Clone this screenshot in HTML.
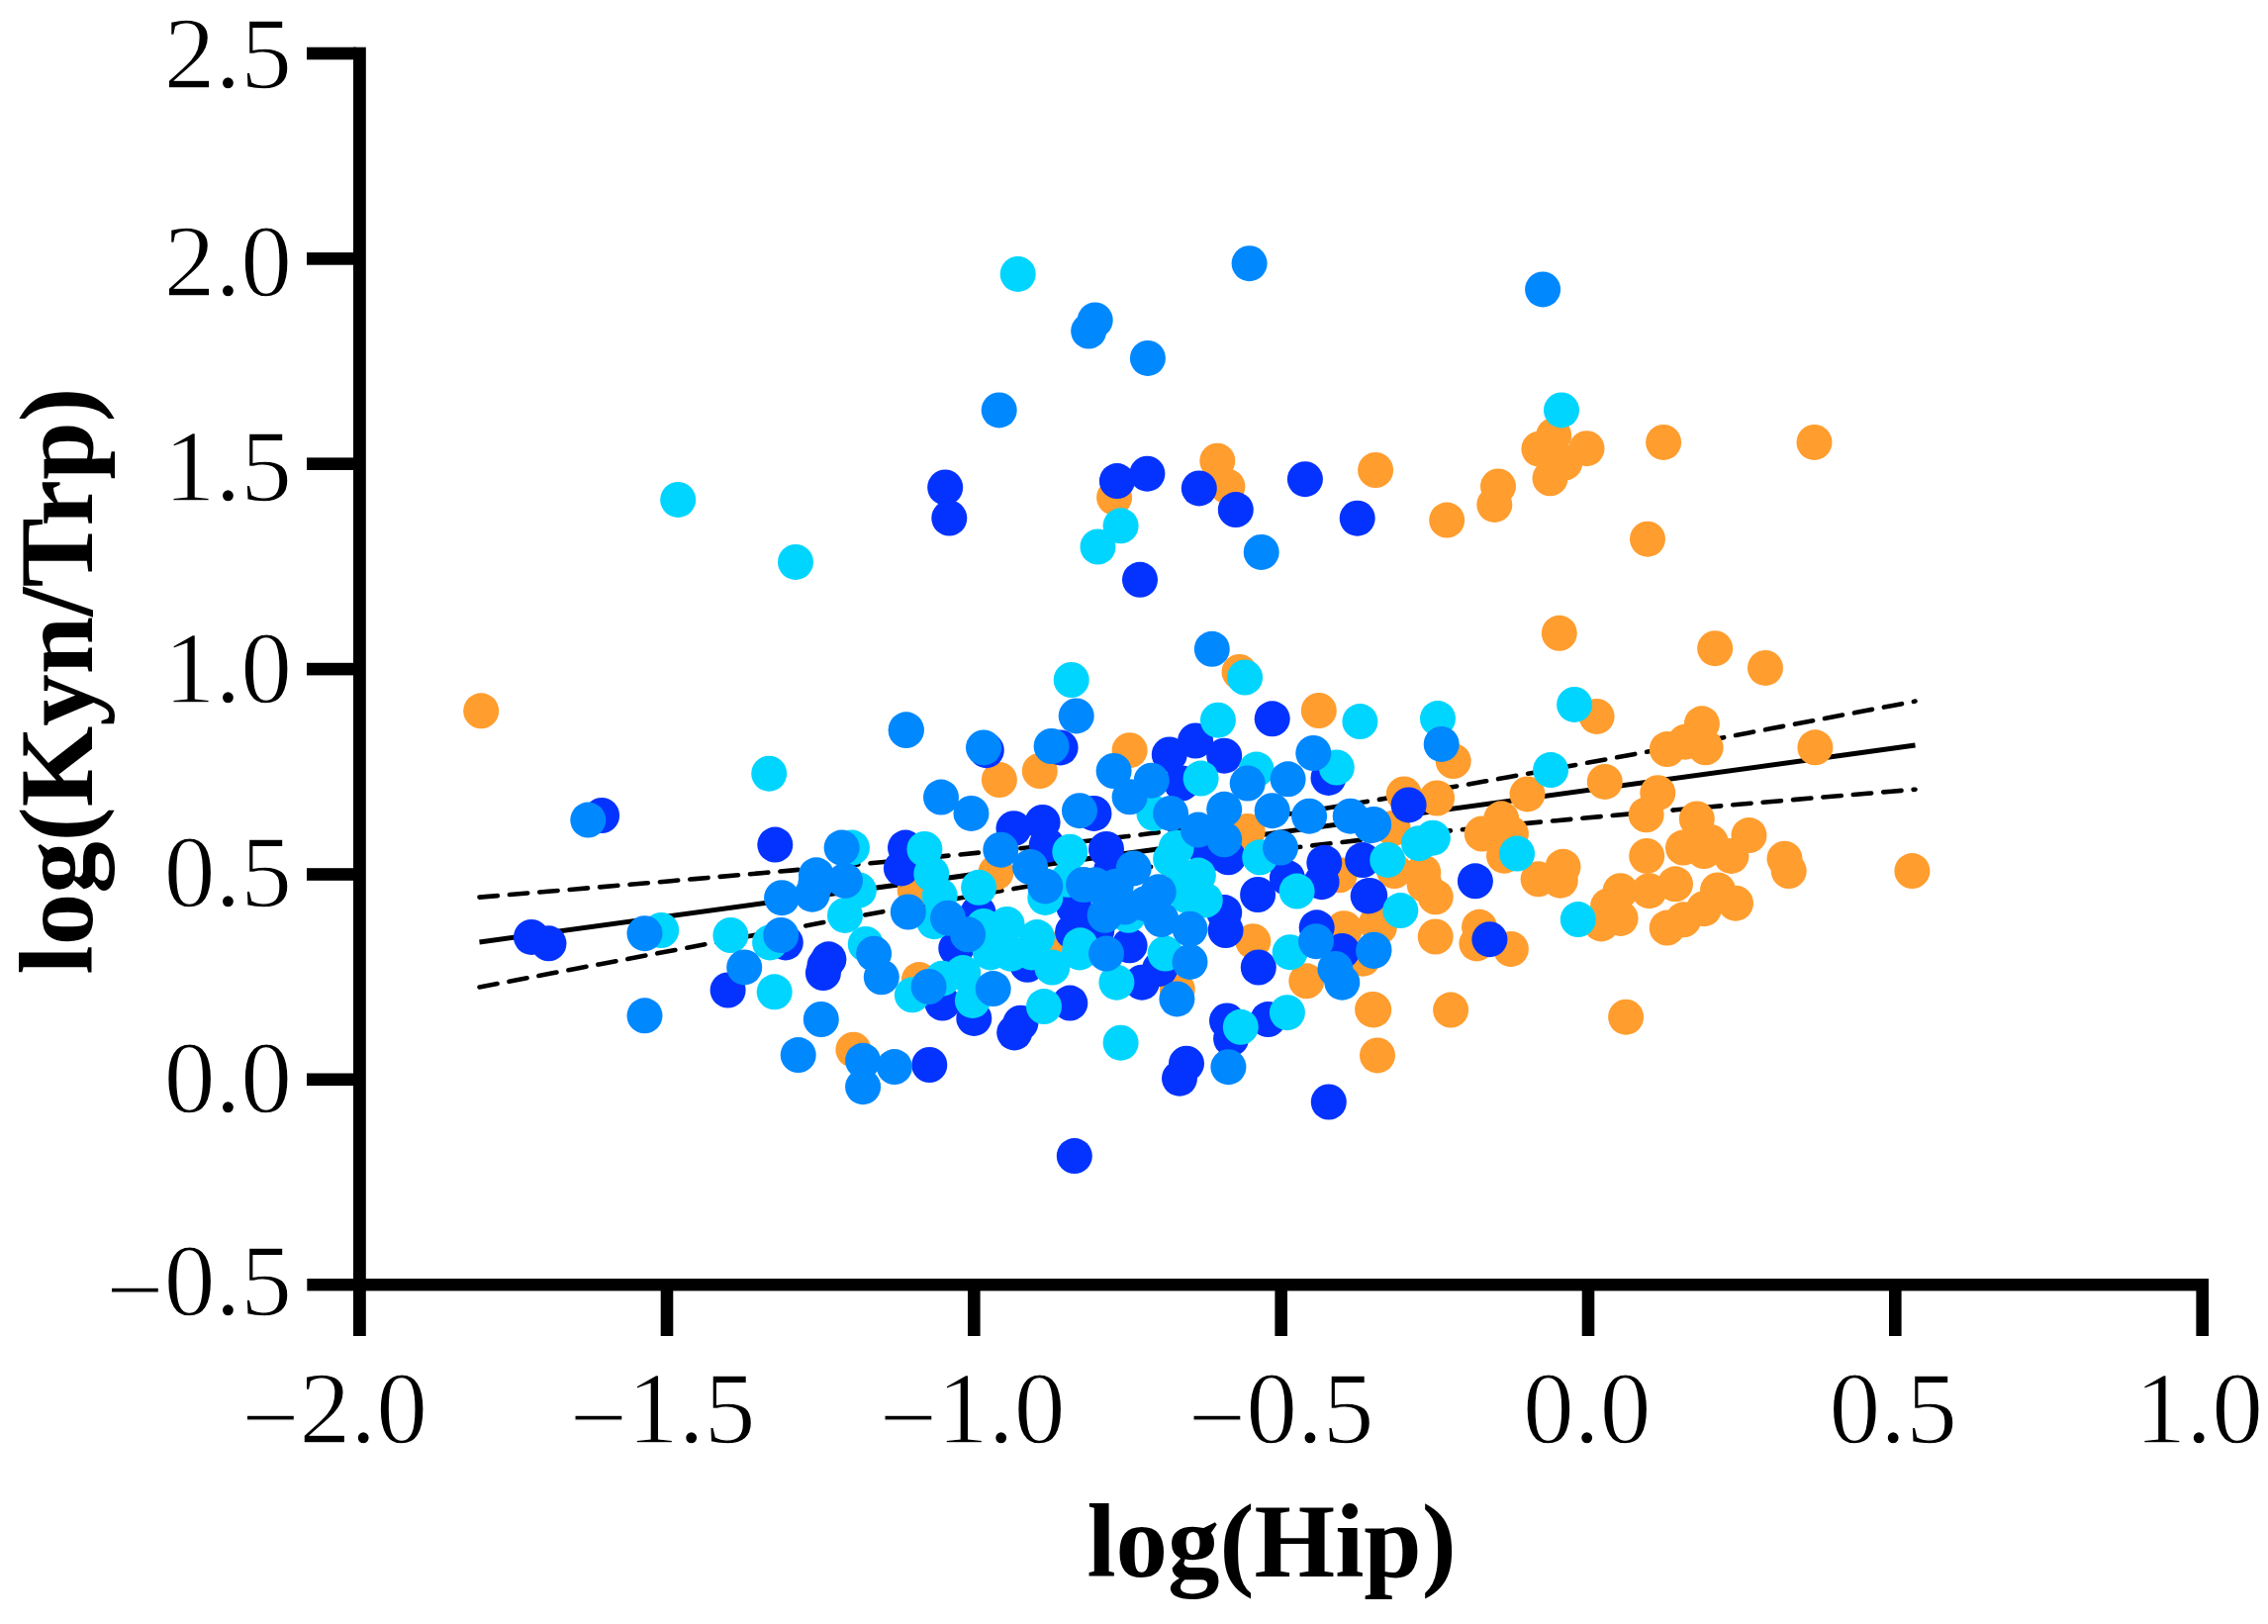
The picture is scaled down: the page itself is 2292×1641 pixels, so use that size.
<!DOCTYPE html><html><head><meta charset="utf-8"><title>log(Kyn/Trp) vs log(Hip)</title>
<style>html,body{margin:0;padding:0;background:#fff}svg{display:block}text{font-family:"Liberation Serif",serif;fill:#000}.t{font-size:103.5px;stroke:#fff;stroke-width:1.3px}.b{font-size:105px;font-weight:bold}</style></head><body>
<svg width="2292" height="1641" viewBox="0 0 2292 1641">
<rect width="2292" height="1641" fill="#fff"/>
<g stroke="#000" fill="none">
<path d="M484.5 952.0 L1935.5 753.1" stroke-width="5"/>
<path d="M484.5 906.6 L508.7 904.6 L532.9 902.5 L557.0 900.5 L581.2 898.5 L605.4 896.4 L629.6 894.4 L653.8 892.3 L678.0 890.2 L702.1 888.1 L726.3 886.0 L750.5 883.9 L774.7 881.8 L798.9 879.6 L823.1 877.4 L847.2 875.2 L871.4 873.0 L895.6 870.7 L919.8 868.4 L944.0 866.1 L968.2 863.7 L992.4 861.3 L1016.5 858.8 L1040.7 856.3 L1064.9 853.6 L1089.1 850.9 L1113.3 848.2 L1137.5 845.3 L1161.6 842.3 L1185.8 839.2 L1210.0 836.0 L1234.2 832.6 L1258.4 829.2 L1282.5 825.6 L1306.7 821.9 L1330.9 818.2 L1355.1 814.3 L1379.3 810.3 L1403.5 806.3 L1427.7 802.2 L1451.8 798.0 L1476.0 793.8 L1500.2 789.6 L1524.4 785.2 L1548.6 780.9 L1572.8 776.5 L1596.9 772.1 L1621.1 767.7 L1645.3 763.2 L1669.5 758.7 L1693.7 754.2 L1717.8 749.7 L1742.0 745.2 L1766.2 740.7 L1790.4 736.1 L1814.6 731.5 L1838.8 727.0 L1863.0 722.4 L1887.1 717.8 L1911.3 713.2 L1935.5 708.6" stroke-width="4.6" stroke-linecap="round" stroke-dasharray="18.4 12.1"/>
<path d="M484.5 997.4 L508.7 992.8 L532.9 988.2 L557.0 983.6 L581.2 979.0 L605.4 974.4 L629.6 969.9 L653.8 965.3 L678.0 960.8 L702.1 956.2 L726.3 951.7 L750.5 947.2 L774.7 942.7 L798.9 938.2 L823.1 933.8 L847.2 929.3 L871.4 924.9 L895.6 920.6 L919.8 916.2 L944.0 911.9 L968.2 907.7 L992.4 903.5 L1016.5 899.4 L1040.7 895.3 L1064.9 891.3 L1089.1 887.3 L1113.3 883.5 L1137.5 879.8 L1161.6 876.1 L1185.8 872.6 L1210.0 869.2 L1234.2 865.9 L1258.4 862.7 L1282.5 859.7 L1306.7 856.7 L1330.9 853.8 L1355.1 851.1 L1379.3 848.4 L1403.5 845.8 L1427.7 843.3 L1451.8 840.8 L1476.0 838.4 L1500.2 836.0 L1524.4 833.7 L1548.6 831.4 L1572.8 829.2 L1596.9 827.0 L1621.1 824.8 L1645.3 822.6 L1669.5 820.5 L1693.7 818.3 L1717.8 816.2 L1742.0 814.1 L1766.2 812.0 L1790.4 810.0 L1814.6 807.9 L1838.8 805.8 L1863.0 803.8 L1887.1 801.8 L1911.3 799.7 L1935.5 797.7" stroke-width="4.6" stroke-linecap="round" stroke-dasharray="18.4 12.1"/>
</g>
<g fill="#FF9D2E"><circle cx="486.2" cy="718.3" r="18"/><circle cx="1126.1" cy="502.7" r="18"/><circle cx="1009.9" cy="788.0" r="18"/><circle cx="1050.8" cy="779.0" r="18"/><circle cx="1006.5" cy="881.5" r="18"/><circle cx="924.7" cy="899.5" r="18"/><circle cx="928.9" cy="990.1" r="18"/><circle cx="1077.1" cy="955.4" r="18"/><circle cx="862.4" cy="1060.7" r="18"/><circle cx="1332.8" cy="718.0" r="18"/><circle cx="1141.6" cy="758.2" r="18"/><circle cx="1260.7" cy="840.0" r="18"/><circle cx="1353.6" cy="884.3" r="18"/><circle cx="1189.8" cy="999.7" r="18"/><circle cx="1266.3" cy="951.2" r="18"/><circle cx="1359.1" cy="938.7" r="18"/><circle cx="1391.0" cy="933.1" r="18"/><circle cx="1377.1" cy="967.8" r="18"/><circle cx="1320.3" cy="991.3" r="18"/><circle cx="1388.2" cy="1020.4" r="18"/><circle cx="1230.3" cy="465.7" r="18"/><circle cx="1240.4" cy="491.6" r="18"/><circle cx="1390.1" cy="475.0" r="18"/><circle cx="1462.2" cy="525.6" r="18"/><circle cx="1514.0" cy="491.4" r="18"/><circle cx="1510.3" cy="509.9" r="18"/><circle cx="1252.5" cy="678.9" r="18"/><circle cx="1570.2" cy="439.9" r="18"/><circle cx="1555.4" cy="453.7" r="18"/><circle cx="1603.5" cy="453.2" r="18"/><circle cx="1581.3" cy="467.6" r="18"/><circle cx="1566.5" cy="483.3" r="18"/><circle cx="1681.1" cy="446.9" r="18"/><circle cx="1833.5" cy="446.9" r="18"/><circle cx="1665.0" cy="544.7" r="18"/><circle cx="1575.8" cy="639.8" r="18"/><circle cx="1733.2" cy="655.2" r="18"/><circle cx="1784.0" cy="674.9" r="18"/><circle cx="1613.6" cy="723.9" r="18"/><circle cx="1719.9" cy="731.3" r="18"/><circle cx="1684.8" cy="757.1" r="18"/><circle cx="1723.6" cy="755.3" r="18"/><circle cx="1703.2" cy="749.7" r="18"/><circle cx="1834.4" cy="755.3" r="18"/><circle cx="1468.7" cy="769.1" r="18"/><circle cx="1418.8" cy="802.4" r="18"/><circle cx="1452.1" cy="806.5" r="18"/><circle cx="1543.5" cy="802.4" r="18"/><circle cx="1621.8" cy="789.9" r="18"/><circle cx="1517.2" cy="827.3" r="18"/><circle cx="1497.8" cy="842.5" r="18"/><circle cx="1526.9" cy="842.5" r="18"/><circle cx="1520.0" cy="864.7" r="18"/><circle cx="1407.7" cy="837.0" r="18"/><circle cx="1579.5" cy="875.8" r="18"/><circle cx="1554.6" cy="888.3" r="18"/><circle cx="1576.8" cy="889.7" r="18"/><circle cx="1438.2" cy="881.3" r="18"/><circle cx="1409.1" cy="880.0" r="18"/><circle cx="1450.7" cy="906.3" r="18"/><circle cx="1439.6" cy="893.8" r="18"/><circle cx="1393.9" cy="936.8" r="18"/><circle cx="1450.7" cy="946.5" r="18"/><circle cx="1495.0" cy="936.8" r="18"/><circle cx="1526.9" cy="958.9" r="18"/><circle cx="1675.3" cy="801.2" r="18"/><circle cx="1663.6" cy="823.3" r="18"/><circle cx="1714.8" cy="827.5" r="18"/><circle cx="1701.0" cy="856.6" r="18"/><circle cx="1728.7" cy="851.0" r="18"/><circle cx="1749.5" cy="864.9" r="18"/><circle cx="1767.5" cy="844.1" r="18"/><circle cx="1664.2" cy="864.9" r="18"/><circle cx="1803.5" cy="867.7" r="18"/><circle cx="1807.7" cy="880.1" r="18"/><circle cx="1932.4" cy="880.1" r="18"/><circle cx="1637.6" cy="900.2" r="18"/><circle cx="1625.1" cy="915.4" r="18"/><circle cx="1618.2" cy="933.4" r="18"/><circle cx="1637.6" cy="927.9" r="18"/><circle cx="1666.7" cy="900.2" r="18"/><circle cx="1693.0" cy="893.3" r="18"/><circle cx="1684.7" cy="937.6" r="18"/><circle cx="1701.3" cy="929.3" r="18"/><circle cx="1722.1" cy="918.2" r="18"/><circle cx="1736.0" cy="899.5" r="18"/><circle cx="1754.0" cy="912.7" r="18"/><circle cx="1643.1" cy="1027.7" r="18"/><circle cx="1387.1" cy="1020.0" r="18"/><circle cx="1466.1" cy="1020.6" r="18"/><circle cx="1392.0" cy="1066.4" r="18"/><circle cx="1377.4" cy="968.7" r="18"/><circle cx="1492.4" cy="953.4" r="18"/><circle cx="1358.0" cy="938.2" r="18"/><circle cx="1722" cy="860" r="18"/></g>
<g fill="#0433FF"><circle cx="608.1" cy="824.0" r="18"/><circle cx="783.3" cy="853.6" r="18"/><circle cx="537.0" cy="946.9" r="18"/><circle cx="554.5" cy="953.3" r="18"/><circle cx="793.8" cy="952.4" r="18"/><circle cx="735.6" cy="1000.5" r="18"/><circle cx="833.5" cy="975.5" r="18"/><circle cx="955.2" cy="492.5" r="18"/><circle cx="1159.4" cy="478.7" r="18"/><circle cx="1128.9" cy="486.1" r="18"/><circle cx="959.3" cy="523.5" r="18"/><circle cx="1152.0" cy="585.8" r="18"/><circle cx="996.8" cy="758.2" r="18"/><circle cx="1071.6" cy="755.4" r="18"/><circle cx="1024.5" cy="837.2" r="18"/><circle cx="1053.6" cy="830.9" r="18"/><circle cx="1057.7" cy="853.8" r="18"/><circle cx="915.0" cy="856.6" r="18"/><circle cx="910.9" cy="877.4" r="18"/><circle cx="988.5" cy="922.2" r="18"/><circle cx="966.3" cy="958.2" r="18"/><circle cx="837.4" cy="969.3" r="18"/><circle cx="831.9" cy="983.1" r="18"/><circle cx="952.4" cy="1013.6" r="18"/><circle cx="984.3" cy="1028.9" r="18"/><circle cx="1038.3" cy="974.8" r="18"/><circle cx="1031.4" cy="1033.7" r="18"/><circle cx="1025.2" cy="1043.4" r="18"/><circle cx="1081.3" cy="1013.6" r="18"/><circle cx="1085.4" cy="916.6" r="18"/><circle cx="1084.1" cy="941.6" r="18"/><circle cx="939.3" cy="1076.0" r="18"/><circle cx="1285.7" cy="726.3" r="18"/><circle cx="1181.8" cy="762.4" r="18"/><circle cx="1208.1" cy="748.5" r="18"/><circle cx="1237.2" cy="763.7" r="18"/><circle cx="1194.2" cy="791.5" r="18"/><circle cx="1342.5" cy="785.9" r="18"/><circle cx="1105.5" cy="821.9" r="18"/><circle cx="1118.0" cy="858.0" r="18"/><circle cx="1220.6" cy="863.5" r="18"/><circle cx="1241.3" cy="866.3" r="18"/><circle cx="1338.3" cy="871.8" r="18"/><circle cx="1300.9" cy="887.1" r="18"/><circle cx="1335.6" cy="891.2" r="18"/><circle cx="1377.1" cy="869.1" r="18"/><circle cx="1237.2" cy="922.1" r="18"/><circle cx="1238.6" cy="940.1" r="18"/><circle cx="1141.6" cy="955.3" r="18"/><circle cx="1154.0" cy="992.7" r="18"/><circle cx="1172.1" cy="978.9" r="18"/><circle cx="1108.3" cy="940.1" r="18"/><circle cx="1122.9" cy="879.8" r="18"/><circle cx="1271.8" cy="977.5" r="18"/><circle cx="1271.1" cy="904.0" r="18"/><circle cx="1382.7" cy="905.4" r="18"/><circle cx="1330.7" cy="937.3" r="18"/><circle cx="1356.3" cy="960.9" r="18"/><circle cx="1281.5" cy="1030.1" r="18"/><circle cx="1240.0" cy="1031.5" r="18"/><circle cx="1244.1" cy="1049.5" r="18"/><circle cx="1211.8" cy="493.4" r="18"/><circle cx="1318.9" cy="484.2" r="18"/><circle cx="1248.8" cy="515.1" r="18"/><circle cx="1371.7" cy="523.7" r="18"/><circle cx="1423.6" cy="813.4" r="18"/><circle cx="1490.9" cy="890.3" r="18"/><circle cx="1384.2" cy="904.9" r="18"/><circle cx="1505.4" cy="949.2" r="18"/><circle cx="1199.0" cy="1074.7" r="18"/><circle cx="1192.0" cy="1089.7" r="18"/><circle cx="1342.8" cy="1113.5" r="18"/><circle cx="1085.8" cy="1168.1" r="18"/></g>
<g fill="#00D5FF"><circle cx="685.2" cy="504.9" r="18"/><circle cx="804.0" cy="567.9" r="18"/><circle cx="668.2" cy="940.0" r="18"/><circle cx="738.4" cy="945.0" r="18"/><circle cx="778.1" cy="952.4" r="18"/><circle cx="782.7" cy="1002.3" r="18"/><circle cx="1028.7" cy="276.9" r="18"/><circle cx="1132.6" cy="531.3" r="18"/><circle cx="1109.5" cy="552.5" r="18"/><circle cx="1082.7" cy="687.0" r="18"/><circle cx="1081.3" cy="860.7" r="18"/><circle cx="989.1" cy="896.8" r="18"/><circle cx="934.4" cy="858.0" r="18"/><circle cx="941.3" cy="882.9" r="18"/><circle cx="861.0" cy="856.6" r="18"/><circle cx="867.9" cy="899.5" r="18"/><circle cx="854.0" cy="924.9" r="18"/><circle cx="949.7" cy="905.1" r="18"/><circle cx="944.1" cy="931.2" r="18"/><circle cx="994.0" cy="936.0" r="18"/><circle cx="1017.6" cy="933.9" r="18"/><circle cx="1048.0" cy="947.1" r="18"/><circle cx="1063.3" cy="977.6" r="18"/><circle cx="1021.7" cy="963.7" r="18"/><circle cx="1042.5" cy="962.4" r="18"/><circle cx="1000.9" cy="962.4" r="18"/><circle cx="973.2" cy="983.1" r="18"/><circle cx="952.4" cy="988.7" r="18"/><circle cx="874.8" cy="954.0" r="18"/><circle cx="921.9" cy="1005.3" r="18"/><circle cx="982.9" cy="1010.9" r="18"/><circle cx="1055.0" cy="1017.1" r="18"/><circle cx="1091.0" cy="962.4" r="18"/><circle cx="1056.3" cy="906.9" r="18"/><circle cx="1230.9" cy="727.7" r="18"/><circle cx="1374.4" cy="729.1" r="18"/><circle cx="1213.6" cy="786.6" r="18"/><circle cx="1269.7" cy="777.6" r="18"/><circle cx="1350.8" cy="775.5" r="18"/><circle cx="1166.5" cy="821.9" r="18"/><circle cx="1273.2" cy="866.3" r="18"/><circle cx="1188.7" cy="856.6" r="18"/><circle cx="1183.1" cy="868.0" r="18"/><circle cx="1197.0" cy="891.6" r="18"/><circle cx="1210.9" cy="884.6" r="18"/><circle cx="1217.8" cy="909.6" r="18"/><circle cx="1199.8" cy="905.4" r="18"/><circle cx="1140.2" cy="924.8" r="18"/><circle cx="1091.7" cy="955.3" r="18"/><circle cx="1177.6" cy="963.6" r="18"/><circle cx="1128.4" cy="992.7" r="18"/><circle cx="1310.6" cy="900.6" r="18"/><circle cx="1303.7" cy="962.2" r="18"/><circle cx="1300.9" cy="1023.2" r="18"/><circle cx="1253.8" cy="1037.8" r="18"/><circle cx="1132.6" cy="1053.7" r="18"/><circle cx="1258.1" cy="684.5" r="18"/><circle cx="1453.0" cy="726.1" r="18"/><circle cx="1578.0" cy="414.4" r="18"/><circle cx="1591.1" cy="711.9" r="18"/><circle cx="1567.1" cy="778.1" r="18"/><circle cx="1447.9" cy="846.7" r="18"/><circle cx="1434.0" cy="852.2" r="18"/><circle cx="1402.2" cy="868.9" r="18"/><circle cx="1533.1" cy="862.6" r="18"/><circle cx="1415.3" cy="920.1" r="18"/><circle cx="1594.8" cy="929.1" r="18"/><circle cx="1079.6" cy="888.8" r="18"/><circle cx="777.2" cy="781.7" r="18"/></g>
<g fill="#0088FF"><circle cx="594.3" cy="828.6" r="18"/><circle cx="651.5" cy="943.2" r="18"/><circle cx="789.2" cy="945.0" r="18"/><circle cx="752.2" cy="977.4" r="18"/><circle cx="651.5" cy="1026.3" r="18"/><circle cx="790.1" cy="907.2" r="18"/><circle cx="824.3" cy="893.3" r="18"/><circle cx="829.8" cy="1030.0" r="18"/><circle cx="806.7" cy="1066.1" r="18"/><circle cx="1106.7" cy="323.5" r="18"/><circle cx="1100.2" cy="334.5" r="18"/><circle cx="1159.9" cy="361.9" r="18"/><circle cx="1009.7" cy="414.4" r="18"/><circle cx="1087.7" cy="723.4" r="18"/><circle cx="915.8" cy="737.3" r="18"/><circle cx="915.7" cy="738.1" r="18"/><circle cx="994.0" cy="755.4" r="18"/><circle cx="1062.6" cy="754.0" r="18"/><circle cx="951.0" cy="805.6" r="18"/><circle cx="981.5" cy="821.9" r="18"/><circle cx="1091.0" cy="819.2" r="18"/><circle cx="1011.3" cy="858.7" r="18"/><circle cx="1041.1" cy="876.0" r="18"/><circle cx="1056.3" cy="895.4" r="18"/><circle cx="1095.1" cy="894.0" r="18"/><circle cx="850.6" cy="856.6" r="18"/><circle cx="824.9" cy="884.3" r="18"/><circle cx="854.0" cy="889.8" r="18"/><circle cx="820.8" cy="903.7" r="18"/><circle cx="917.8" cy="921.5" r="18"/><circle cx="958.0" cy="927.7" r="18"/><circle cx="978.1" cy="944.3" r="18"/><circle cx="883.1" cy="963.7" r="18"/><circle cx="890.8" cy="987.3" r="18"/><circle cx="938.6" cy="997.0" r="18"/><circle cx="1003.7" cy="999.1" r="18"/><circle cx="872.1" cy="1071.8" r="18"/><circle cx="872.1" cy="1098.2" r="18"/><circle cx="903.9" cy="1078.1" r="18"/><circle cx="1125.6" cy="779.0" r="18"/><circle cx="1163.7" cy="788.7" r="18"/><circle cx="1141.6" cy="805.3" r="18"/><circle cx="1260.7" cy="791.5" r="18"/><circle cx="1301.6" cy="787.3" r="18"/><circle cx="1327.3" cy="761.0" r="18"/><circle cx="1183.1" cy="821.9" r="18"/><circle cx="1237.2" cy="817.8" r="18"/><circle cx="1210.9" cy="838.6" r="18"/><circle cx="1237.2" cy="848.3" r="18"/><circle cx="1285.7" cy="819.2" r="18"/><circle cx="1323.1" cy="824.7" r="18"/><circle cx="1364.7" cy="824.7" r="18"/><circle cx="1388.2" cy="833.0" r="18"/><circle cx="1294.0" cy="856.6" r="18"/><circle cx="1145.7" cy="877.4" r="18"/><circle cx="1106.9" cy="894.3" r="18"/><circle cx="1136.6" cy="916.5" r="18"/><circle cx="1157.6" cy="913.2" r="18"/><circle cx="1127.7" cy="895.7" r="18"/><circle cx="1170.7" cy="901.3" r="18"/><circle cx="1116.6" cy="924.8" r="18"/><circle cx="1173.4" cy="929.0" r="18"/><circle cx="1202.5" cy="938.7" r="18"/><circle cx="1118.0" cy="963.6" r="18"/><circle cx="1202.5" cy="971.9" r="18"/><circle cx="1189.4" cy="1009.4" r="18"/><circle cx="1330.0" cy="951.2" r="18"/><circle cx="1349.4" cy="978.9" r="18"/><circle cx="1356.3" cy="992.7" r="18"/><circle cx="1388.2" cy="960.9" r="18"/><circle cx="1262.6" cy="266.2" r="18"/><circle cx="1274.7" cy="557.9" r="18"/><circle cx="1224.8" cy="655.8" r="18"/><circle cx="1456.7" cy="751.9" r="18"/><circle cx="1559.1" cy="292.4" r="18"/><circle cx="1385.5" cy="834.2" r="18"/><circle cx="1388.5" cy="959.7" r="18"/><circle cx="1241.4" cy="1078.2" r="18"/></g>
<g fill="#000">
<rect x="357" y="47.7" width="12.8" height="1302.3"/>
<rect x="310.3" y="1292.0" width="1921.7" height="12.4"/>
<rect x="310" y="47.7" width="50" height="12.6"/>
<rect x="310" y="255.1" width="50" height="12.6"/>
<rect x="310" y="462.4" width="50" height="12.6"/>
<rect x="310" y="669.8" width="50" height="12.6"/>
<rect x="310" y="877.2" width="50" height="12.6"/>
<rect x="310" y="1084.5" width="50" height="12.6"/>
<rect x="667.7" y="1295" width="12.6" height="55"/>
<rect x="978.0" y="1295" width="12.6" height="55"/>
<rect x="1288.4" y="1295" width="12.6" height="55"/>
<rect x="1598.7" y="1295" width="12.6" height="55"/>
<rect x="1909.0" y="1295" width="12.6" height="55"/>
<rect x="2219.4" y="1295" width="12.6" height="55"/>
</g>
<text class="t" x="295.0" y="89.2" text-anchor="end">2.5</text>
<text class="t" x="295.0" y="298.6" text-anchor="end">2.0</text>
<text class="t" x="295.0" y="505.8" text-anchor="end">1.5</text>
<text class="t" x="295.0" y="709.6" text-anchor="end">1.0</text>
<text class="t" x="295.0" y="915.8" text-anchor="end">0.5</text>
<text class="t" x="295.0" y="1123.8" text-anchor="end">0.0</text>
<text class="t" x="295.0" y="1328.8" text-anchor="end"><tspan dy="9">−</tspan><tspan dy="-9">0.5</tspan></text>
<text class="t" x="338.0" y="1457.5" text-anchor="middle"><tspan dy="9">−</tspan><tspan dy="-9">2.0</tspan></text>
<text class="t" x="669.6" y="1457.5" text-anchor="middle"><tspan dy="9">−</tspan><tspan dy="-9">1.5</tspan></text>
<text class="t" x="982.5" y="1457.5" text-anchor="middle"><tspan dy="9">−</tspan><tspan dy="-9">1.0</tspan></text>
<text class="t" x="1294.7" y="1457.5" text-anchor="middle"><tspan dy="9">−</tspan><tspan dy="-9">0.5</tspan></text>
<text class="t" x="1603.8" y="1457.5" text-anchor="middle">0.0</text>
<text class="t" x="1913.2" y="1457.5" text-anchor="middle">0.5</text>
<text class="t" x="2222.3" y="1457.5" text-anchor="middle">1.0</text>
<text class="b" x="1098.4" y="1592.8">log(Hip)</text>
<text class="b" transform="translate(92.7 984.5) rotate(-90)">log(Kyn/Trp)</text>
</svg></body></html>
